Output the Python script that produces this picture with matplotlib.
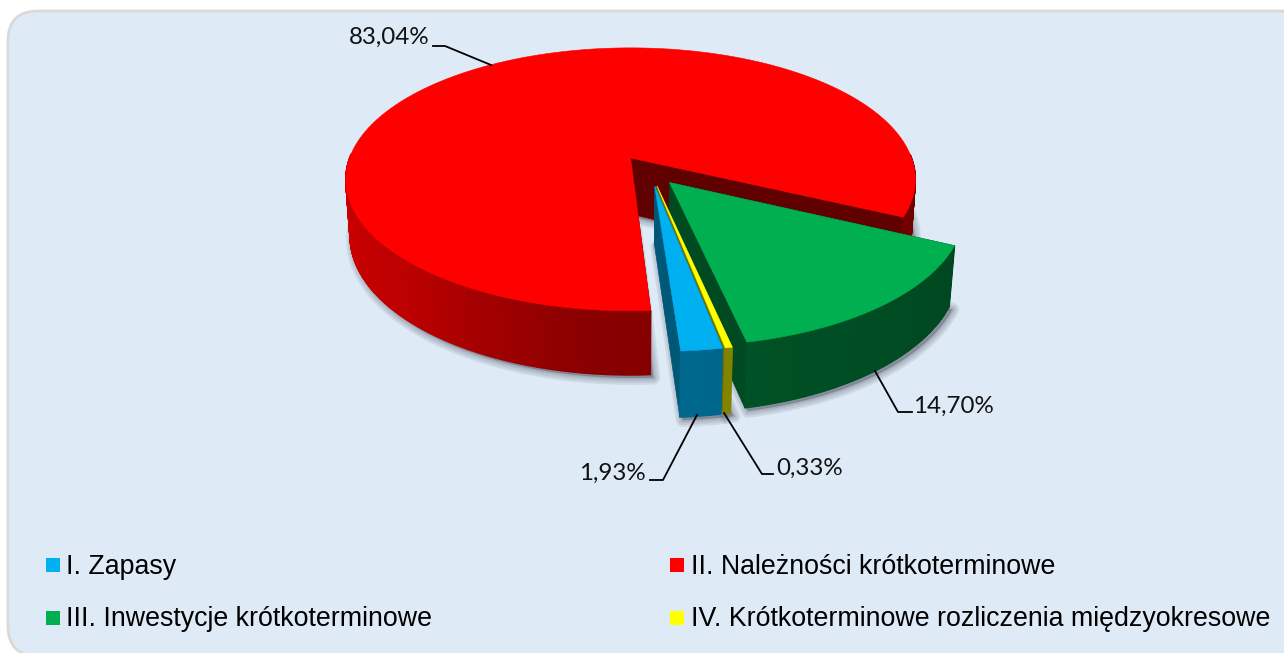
"""Wykres kolowy 3D (rozsuniety) struktury aktywow obrotowych, rzutowany recznie."""
import numpy as np
import matplotlib
matplotlib.use("Agg")
import matplotlib.pyplot as plt
from matplotlib.patches import FancyBboxPatch, Rectangle

categories = ["I. Zapasy", "II. Należności krótkoterminowe",
              "III. Inwestycje krótkoterminowe", "IV. Krótkoterminowe rozliczenia międzyokresowe"]
shares = [1.93, 83.04, 14.70, 0.33]
share_labels = ["1,93%", "83,04%", "14,70%", "0,33%"]
colors = ["#00B0F0", "#FF0000", "#00B050", "#FFFF00"]

W, H = 1284, 653
START = -79.6     # kat poczatku pierwszego wycinka, dalej zgodnie ze wskazowkami
EXPLODE = [0.11, 0.125, 0.105, 0.11]
# rzut perspektywiczny dysku na ekran
OX, OY = 630.5, 158
A, B, K = 281, 128, 0.163
DEPTH, M = 57, 0.015
CU, CV = 0.07, -0.103


def project(u, v, low=False):
    w = 1 + K * v + (M if low else 0)
    return OX + A * u / w, OY + (-B * v + (DEPTH if low else 0)) / w


def side_shade(t):
    # jasnosc sciany bocznej wg kata (stopnie, 180=lewo, 270=przod)
    t = np.mod(t, 360)
    return np.interp(t, [150, 190, 225, 262, 275, 360], [0.62, 0.80, 0.74, 0.54, 0.52, 0.42])


def darker(color, f):
    return tuple(min(c * f, 1) for c in matplotlib.colors.to_rgb(color))


fig = plt.figure(figsize=(W / 100, H / 100), dpi=100, facecolor="white")
ax = fig.add_axes([0, 0, 1, 1])
ax.set_xlim(0, W)
ax.set_ylim(H, 0)
ax.axis("off")

ax.add_patch(FancyBboxPatch((8, 11), W + 30, 645, boxstyle="round,pad=0,rounding_size=30",
                            fc="#DEEAF6", ec="#D9D9D9", lw=2))

# katy wycinkow
sweep = np.array(shares) / sum(shares) * 360
starts = START - np.concatenate([[0], np.cumsum(sweep)[:-1]])
ends = starts - sweep
face_dark = [0.50, 0.38, 0.42, 0.45]
side_dark = [1.13, 1.0, 0.90, 1.0]
order = [1, 2, 3, 0]  # od tylu do przodu

# cien pod wycinkami
for i in order:
    mid = np.radians((starts[i] + ends[i]) / 2)
    cu, cv = CU + EXPLODE[i] * np.cos(mid), CV + EXPLODE[i] * np.sin(mid)
    t = np.radians(np.linspace(starts[i], ends[i], 200))
    xs, ys = project(np.r_[cu, cu + np.cos(t)], np.r_[cv, cv + np.sin(t)], low=True)
    for lw in (10, 7, 4, 2):
        ax.fill(xs + 3, ys + 3, fc="#404050", ec="#404050", alpha=0.1, lw=lw, joinstyle="round", zorder=2)

z = 3
for i in order:
    mid = np.radians((starts[i] + ends[i]) / 2)
    cu, cv = CU + EXPLODE[i] * np.cos(mid), CV + EXPLODE[i] * np.sin(mid)
    deg = np.linspace(starts[i], ends[i], max(int(sweep[i] * 2), 3))
    t = np.radians(deg)
    u, v = cu + np.cos(t), cv + np.sin(t)
    xt, yt = project(u, v)
    xb, yb = project(u, v, low=True)
    ax_t, ay_t = project(cu, cv)
    ax_b, ay_b = project(cu, cv, low=True)

    # sciany promieniowe
    fc = darker(colors[i], face_dark[i])
    for j in (0, -1):
        ax.fill([ax_t, ax_b, xb[j], xt[j]], [ay_t, ay_b, yb[j], yt[j]], fc=fc, ec=fc, lw=0.5, zorder=z)
    z += 1
    # sciana boczna, paski z cieniowaniem; tylko widoczne od przodu
    for j in range(len(deg) - 1):
        m = (deg[j] + deg[j + 1]) / 2
        if np.sin(np.radians(m)) > 0.03:
            continue
        fc = darker(colors[i], side_shade(m) * side_dark[i])
        ax.fill([xt[j], xt[j + 1], xb[j + 1], xb[j]], [yt[j], yt[j + 1], yb[j + 1], yb[j]],
                fc=fc, ec=fc, lw=1.0, zorder=z)
    z += 1
    # wierzch
    ax.fill(np.r_[ax_t, xt], np.r_[ay_t, yt], fc=colors[i], ec=colors[i], lw=0.4, zorder=z)
    z += 1

# etykiety z liniami odniesienia
label_font = ["Lato", "DejaVu Sans"]
ax.plot([433, 445, 491], [46, 46, 65], color="black", lw=1.3, zorder=50)
ax.plot([875, 898, 912], [371, 412, 412], color="black", lw=1.3, zorder=50)
ax.plot([650, 663, 697], [480, 480, 415], color="black", lw=1.3, zorder=50)
ax.plot([724, 762, 773], [413, 474, 474], color="black", lw=1.3, zorder=50)
ax.text(349, 37.5, share_labels[1], family=label_font, fontsize=17.4, va="center", color="#111111", zorder=51)
ax.text(913, 406.5, share_labels[2], family=label_font, fontsize=17.4, va="center", color="#111111", zorder=51)
ax.text(579, 473.5, share_labels[0], family=label_font, fontsize=17.4, va="center", color="#111111", zorder=51)
ax.text(776, 468.5, share_labels[3], family=label_font, fontsize=17.4, va="center", color="#111111", zorder=51)

# legenda
for name, col, lx, ly, tx in zip(categories, colors, [46, 670, 46, 670], [565, 565, 618, 618], [66, 691, 66, 691]):
    ax.add_patch(Rectangle((lx, ly - 7), 14, 14, fc=col, ec="none", zorder=60))
    ax.text(tx, ly + 1.5, name, family="Liberation Sans", fontsize=19.3, va="center", color="black", zorder=60)

fig.savefig("out.png", dpi=100, facecolor="white")
